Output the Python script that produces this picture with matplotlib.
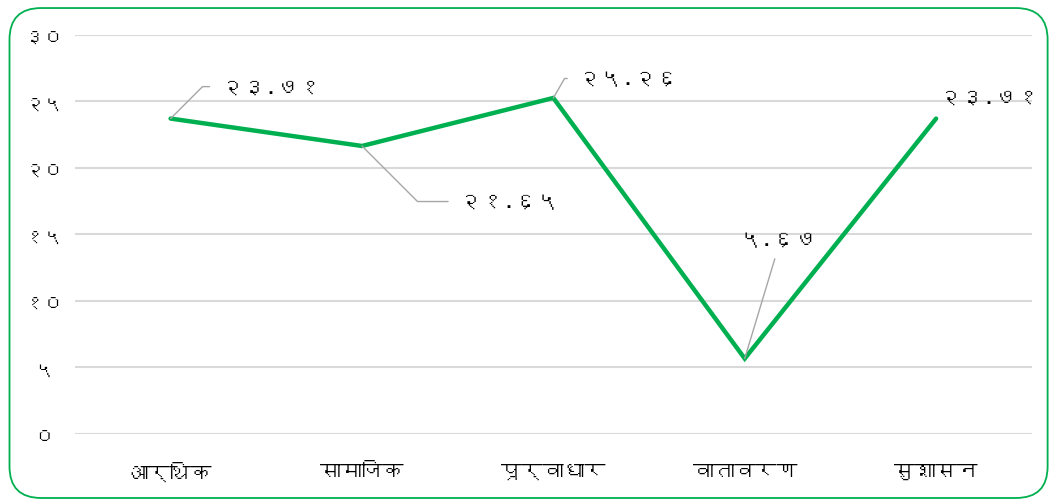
import matplotlib
matplotlib.use('Agg')
import matplotlib.pyplot as plt
from matplotlib import font_manager
from matplotlib.patches import FancyBboxPatch

# look for any installed font that covers Devanagari
def find_deva_font():
    try:
        from fontTools.ttLib import TTFont
    except Exception:
        return None
    for f in font_manager.fontManager.ttflist:
        try:
            cmap = TTFont(f.fname, fontNumber=0, lazy=True).getBestCmap()
        except Exception:
            continue
        if cmap and 0x0915 in cmap and 0x0967 in cmap:
            return f.name
    return None

deva = find_deva_font()
fams = ([deva] if deva else []) + ['DejaVu Sans']
plt.rcParams['font.family'] = fams

categories = ['आर्थिक', 'सामाजिक', 'पूर्वाधार', 'वातावरण', 'सुशासन']
values = [23.71, 21.65, 25.26, 5.67, 23.71]
value_labels = ['२३.७१', '२१.६५', '२५.२६', '५.६७', '२३.७१']
yticks = [0, 5, 10, 15, 20, 25, 30]
ytick_labels = ['०', '५', '१०', '१५', '२०', '२५', '३०']

green = '#00B050'

fig = plt.figure(figsize=(10.55, 5.02), dpi=100)
ax = fig.add_axes([0.071, 0.1335, 0.907, 0.795])

# rounded frame round the whole chart
frame = FancyBboxPatch((0.009, 0.006), 0.984, 0.976,
                       boxstyle='round,pad=0,rounding_size=0.03',
                       transform=fig.transFigure, fill=False,
                       edgecolor=green, linewidth=1.3, mutation_aspect=2.1)
fig.patches.append(frame)

x = list(range(len(categories)))
ax.plot(x, values, color=green, linewidth=3.2, solid_capstyle='round',
        solid_joinstyle='miter', zorder=3)

ax.set_xlim(-0.5, 4.5)
ax.set_ylim(0, 30)
ax.set_yticks(yticks)
ax.set_yticklabels(ytick_labels, fontsize=14)
ax.set_xticks(x)
ax.set_xticklabels(categories, fontsize=15)
ax.tick_params(length=0, pad=20)
ax.tick_params(axis='y', pad=22)
for lbl in ax.get_yticklabels():
    lbl.set_horizontalalignment('center')
ax.grid(axis='y', color='#D9D9D9', linewidth=1.5)
ax.set_axisbelow(True)
for s in ax.spines.values():
    s.set_visible(False)

# data labels with elbow leader lines (offsets in points)
offsets = [(36, 23), (70, -40), (18, 14), (24, 86), (38, 16)]
angles = [45, -45, 60, None, None]
for i in range(len(values)):
    dx, dy = offsets[i]
    kw = {}
    ha = 'left'
    if angles[i] is not None:
        kw['arrowprops'] = dict(arrowstyle='-', color='#A6A6A6', lw=1,
                                shrinkA=6, shrinkB=0, relpos=(0, 0.5),
                                connectionstyle='angle,angleA=0,angleB=%d,rad=0' % angles[i])
    elif i == 3:
        ha = 'center'
        kw['arrowprops'] = dict(arrowstyle='-', color='#A6A6A6', lw=1,
                                shrinkA=6, shrinkB=0, relpos=(0.5, 0))
    else:
        ha = 'center'
    ax.annotate(value_labels[i], (x[i], values[i]), xytext=(dx, dy),
                textcoords='offset points', fontsize=16, color='black',
                ha=ha, va='center', **kw)

fig.savefig('out.png', dpi=100)
